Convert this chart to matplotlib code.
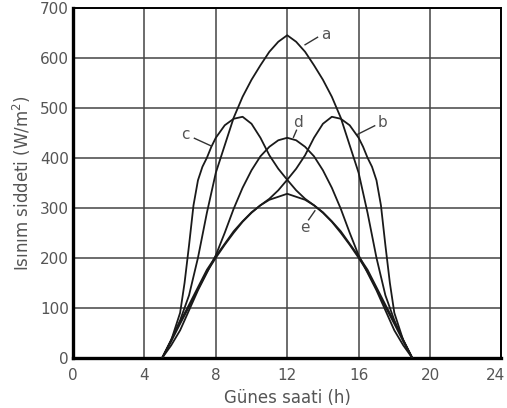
import matplotlib
matplotlib.use("Agg")
import matplotlib.pyplot as plt
from matplotlib.transforms import ScaledTranslation

# hours of the day (solar time)
hours = [5, 5.5, 6, 6.5, 7, 7.5, 8, 8.5, 9, 9.5, 10, 10.5, 11, 11.5, 12,
         12.5, 13, 13.5, 14, 14.5, 15, 15.5, 16, 16.5, 17, 17.5, 18, 18.5, 19]
# c and b rise/fall very steeply, so they are read at finer steps there
hours_c = [5, 5.5, 6, 6.25, 6.5, 6.75, 7, 7.25, 7.5, 7.75, 8, 8.5, 9, 9.5, 10,
           10.5, 11, 11.5, 12, 12.5, 13, 13.5, 14, 14.5, 15, 15.5, 16, 16.5,
           17, 17.5, 18, 18.5, 19]
hours_b = [5, 5.5, 6, 6.5, 7, 7.5, 8, 8.5, 9, 9.5, 10, 10.5, 11, 11.5, 12,
           12.5, 13, 13.5, 14, 14.5, 15, 15.5, 16, 16.25, 16.5, 16.75, 17,
           17.25, 17.5, 17.75, 18, 18.5, 19]

# irradiance values (W/m2)
curve_a = [0, 35, 75, 125, 200, 290, 370, 425, 480, 522, 556, 585, 612, 632, 645,
           632, 612, 585, 556, 522, 480, 425, 370, 290, 200, 125, 75, 35, 0]
curve_c = [0, 35, 90, 150, 225, 305, 355, 382, 400, 422, 440, 465, 478, 482, 468,
           440, 405, 378, 356, 335, 318, 305, 290, 272, 250, 226, 200, 172,
           138, 102, 68, 33, 0]
curve_b = [0, 33, 68, 102, 138, 172, 200, 226, 250, 272, 290, 305, 318, 335, 356,
           378, 405, 440, 468, 482, 478, 465, 440, 422, 400, 382, 355, 305,
           225, 150, 90, 35, 0]
curve_d = [0, 25, 55, 95, 135, 170, 205, 250, 298, 340, 375, 403, 422, 435, 440,
           435, 422, 403, 375, 340, 298, 250, 205, 170, 135, 95, 55, 25, 0]
curve_e = [0, 36, 72, 106, 141, 176, 203, 228, 253, 273, 291, 305, 316, 322, 328,
           322, 316, 305, 291, 273, 253, 228, 203, 176, 141, 106, 72, 36, 0]

labels = ["a", "b", "c", "d", "e"]
# label text position and leader line (start on curve, end near text)
label_pos = [(14.15, 646), (17.35, 470), (6.3, 446), (12.62, 470), (13.0, 260)]
leaders = [((13.0, 626), (13.7, 641)), ((15.95, 447), (16.9, 464)),
           ((7.72, 424), (6.8, 439)), ((12.35, 441), (12.52, 455)),
           ((13.55, 294), (13.2, 276))]

txt = "#555555"
fig = plt.figure(figsize=(5.07, 4.08), dpi=100)
ax = fig.add_axes([0.144, 0.123, 0.845, 0.858])

ax.plot(hours, curve_a, color="#1a1a1a", lw=1.3, zorder=3)
ax.plot(hours_b, curve_b, color="#1a1a1a", lw=1.3, zorder=3)
ax.plot(hours_c, curve_c, color="#1a1a1a", lw=1.3, zorder=3)
ax.plot(hours, curve_d, color="#1a1a1a", lw=1.3, zorder=3)
ax.plot(hours, curve_e, color="#1a1a1a", lw=1.3, zorder=3)

for lab, (tx, ty), (p0, p1) in zip(labels, label_pos, leaders):
    ax.plot([p0[0], p1[0]], [p0[1], p1[1]], color="#333333", lw=1.0, zorder=3)
    ax.text(tx, ty, lab, fontsize=11, color=txt, ha="center", va="center")

ax.set_xlim(0, 24)
ax.set_ylim(0, 700)
ax.set_xticks(range(0, 25, 4))
ax.set_yticks(range(0, 701, 100))
ax.grid(True, color="#444444", lw=1.1)
ax.set_axisbelow(True)
ax.tick_params(axis="y", length=0, labelsize=11, labelcolor=txt, pad=3)
ax.tick_params(axis="x", length=0, labelsize=11, labelcolor=txt, pad=7)

# keep the last hour label inside the picture
last = ax.get_xticklabels()[-1]
last.set_transform(last.get_transform() + ScaledTranslation(-0.06, 0, fig.dpi_scale_trans))

for side in ["left", "bottom"]:
    ax.spines[side].set_linewidth(2.4)
for side in ["top", "right"]:
    ax.spines[side].set_linewidth(1.4)

ax.set_xlabel("Günes saati (h)", fontsize=12, color=txt, labelpad=5)
ax.set_ylabel("Isınım siddeti (W/m$^2$)", fontsize=12, color=txt, labelpad=5)

fig.savefig("out.png", dpi=100)
